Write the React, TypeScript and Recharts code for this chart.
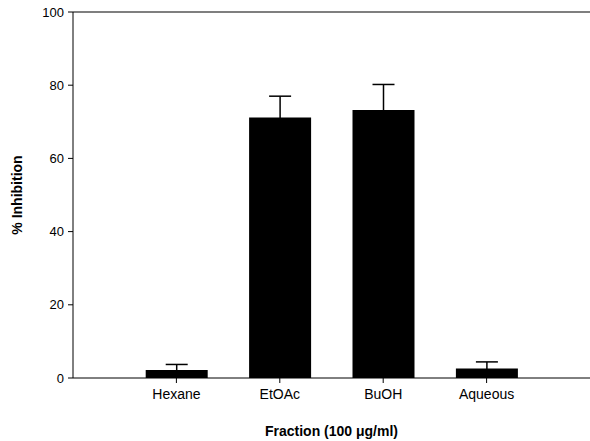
import { BarChart, Bar, XAxis, YAxis, ErrorBar, ReferenceLine, Label } from "recharts";

const fractions = ["Hexane", "EtOAc", "BuOH", "Aqueous"];
const inhibition = [2.2, 71.2, 73.2, 2.6];
const errors = [1.5, 5.8, 7.0, 1.8];
const yTicks = [0, 20, 40, 60, 80, 100];

const data = fractions.map((name, i) => ({
  pos: i + 1,
  name,
  value: inhibition[i],
  err: errors[i],
}));

const font = "Arial, 'Liberation Sans', sans-serif";

export default function App() {
  return (
    <div style={{ position: "absolute", left: 0, top: 0, background: "#fff" }}>
      <BarChart
        width={590}
        height={441}
        data={data}
        margin={{ top: 12, right: 0, left: 13, bottom: 0 }}
      >
        <XAxis
          dataKey="pos"
          type="number"
          domain={[0, 5]}
          ticks={[1, 2, 3, 4]}
          tickFormatter={(v: number) => fractions[v - 1] ?? ""}
          tick={{ fill: "#000", fontSize: 14, fontFamily: font }}
          tickSize={5}
          tickMargin={6}
          stroke="#000"
          height={63}
          allowDecimals={false}
        >
          <Label
            value="Fraction (100 μg/ml)"
            position="insideBottom"
            offset={5}
            style={{ fill: "#000", fontSize: 14, fontWeight: "bold", fontFamily: font }}
          />
        </XAxis>
        <YAxis
          type="number"
          domain={[0, 100]}
          ticks={yTicks}
          tick={{ fill: "#000", fontSize: 13, fontFamily: font }}
          tickSize={5}
          tickMargin={4}
          stroke="#000"
          width={60}
        >
          <Label
            value="% Inhibition"
            angle={-90}
            position="insideLeft"
            offset={4}
            style={{ fill: "#000", fontSize: 14, fontWeight: "bold", fontFamily: font, textAnchor: "middle" }}
          />
        </YAxis>
        <ReferenceLine y={100} stroke="#000" strokeWidth={1.2} />
        <Bar dataKey="value" fill="#000" barSize={62} isAnimationActive={false}>
          <ErrorBar dataKey="err" width={11} stroke="#000" strokeWidth={1.5} direction="y" />
        </Bar>
      </BarChart>
    </div>
  );
}
